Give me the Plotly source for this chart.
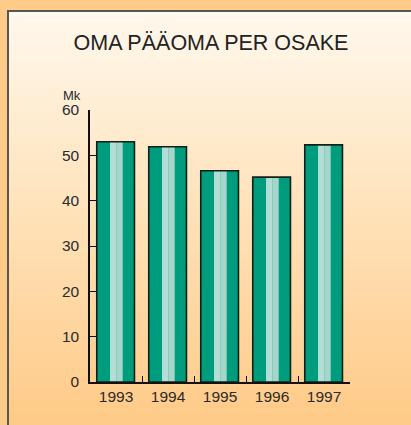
import plotly.graph_objects as go

years = ["1993", "1994", "1995", "1996", "1997"]
values = [53.0, 51.9, 46.6, 45.2, 52.3]
y_ticks = [0, 10, 20, 30, 40, 50, 60]
title_text = "OMA PÄÄOMA PER OSAKE"
unit_text = "Mk"

W, H = 411, 425
L, R, T, B = 90, 61, 110, 43
PW, PH = W - L - R, H - T - B

def px_x(px):
    return (px - L) / PW

def px_y(py):
    return (H - B - py) / PH

def lerp(c1, c2, t):
    return tuple(round(a + (b - a) * t) for a, b in zip(c1, c2))

top_c = (255, 248, 237)
mid_c = (255, 228, 190)
bot_c = (255, 203, 137)

shapes = []
y0, y1 = 10, 430
step = 2
py = y0
while py < y1:
    t = (py - y0) / (415 - y0)
    t = min(max(t, 0), 1)
    if t < 0.45:
        c = lerp(top_c, mid_c, t / 0.45)
    else:
        c = lerp(mid_c, bot_c, (t - 0.45) / 0.55)
    shapes.append(dict(type="rect", xref="paper", yref="paper",
                       x0=px_x(7), x1=px_x(430), y0=px_y(py + step + 0.5), y1=px_y(py),
                       fillcolor="rgb(%d,%d,%d)" % c, line=dict(width=0), layer="below"))
    py += step
shapes.append(dict(type="rect", xref="paper", yref="paper",
                   x0=px_x(8), x1=px_x(440), y0=px_y(440), y1=px_y(11),
                   fillcolor="rgba(0,0,0,0)", line=dict(color="#5a5550", width=2), layer="below"))

fig = go.Figure()
fig.add_trace(go.Bar(x=years, y=values, width=0.725, offset=-0.37,
                     marker=dict(color="#009c7e", line=dict(width=0)), hoverinfo="skip"))
fig.add_trace(go.Bar(x=years, y=values, width=0.128, offset=-0.115,
                     marker=dict(color="#b3ded5", line=dict(width=0)), hoverinfo="skip"))
fig.add_trace(go.Bar(x=years, y=values, width=0.116, offset=0.013,
                     marker=dict(color="#a6d5c9", line=dict(width=0)), hoverinfo="skip"))
fig.add_trace(go.Bar(x=years, y=values, width=0.725, offset=-0.37,
                     marker=dict(color="rgba(0,0,0,0)", line=dict(color="#102018", width=1.6)),
                     hoverinfo="skip"))

fig.update_layout(
    width=W, height=H,
    margin=dict(l=L, r=R, t=T, b=B, pad=0),
    paper_bgcolor="#ffcb89",
    plot_bgcolor="rgba(0,0,0,0)",
    barmode="overlay",
    showlegend=False,
    font=dict(family="Liberation Sans, Arial, sans-serif", color="#2a2a2a", size=15.5),
    shapes=shapes,
    title=dict(text=title_text, x=211 / W, xref="container", xanchor="center",
               y=1 - 42 / H, yref="container", yanchor="middle",
               font=dict(size=21.5, color="#222222")),
    annotations=[dict(text=unit_text, x=px_x(72), y=px_y(95), xref="paper", yref="paper",
                      showarrow=False, xanchor="center", yanchor="middle",
                      font=dict(size=13, color="#2a2a2a"))],
)
fig.update_xaxes(type="category", showline=True, linecolor="#111111", linewidth=1.5,
                 ticks="inside", tickson="boundaries", ticklen=6, tickcolor="#111111",
                 tickwidth=1.2, showgrid=False, zeroline=False, fixedrange=True)
fig.update_yaxes(range=[0, 60], tickvals=y_ticks, showline=True, linecolor="#111111",
                 linewidth=1.5, ticks="inside", ticklen=6, tickcolor="#111111", tickwidth=1.2,
                 showgrid=False, zeroline=False, ticklabelstandoff=6, fixedrange=True)

fig.write_html("out.html", config={"displayModeBar": False},
               post_script="document.body.style.margin='0';document.body.style.padding='0';")
